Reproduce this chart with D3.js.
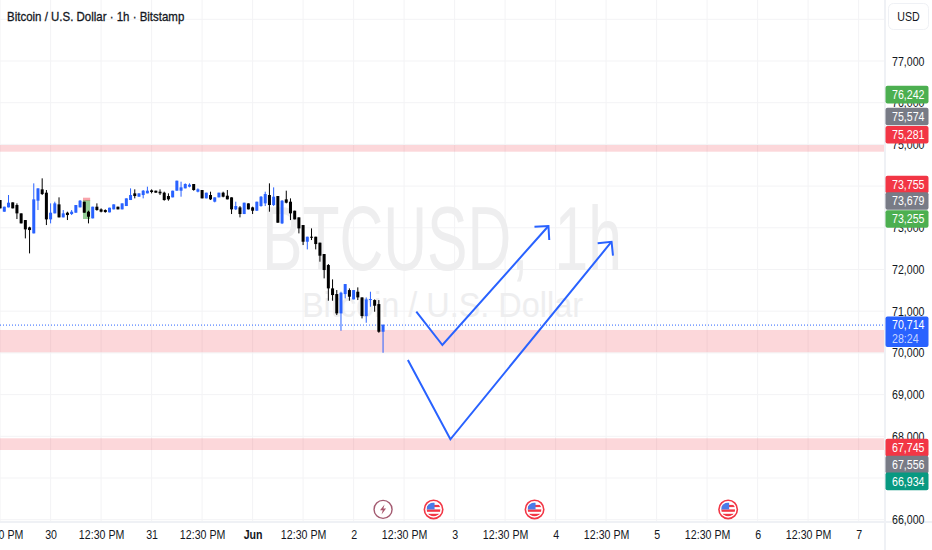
<!DOCTYPE html>
<html>
<head>
<meta charset="utf-8">
<script src="https://cdn.jsdelivr.net/npm/d3@7"></script>
<style>
  html, body { margin: 0; padding: 0; background: #fff; overflow: hidden; }
  svg { display: block; }
  text { font-family: "Liberation Sans", sans-serif; }
</style>
</head>
<body>
<div id="chart"></div>
<script>
// candles, hours counted from May 30 00:00, first one sits on the left edge
const firstHour = -12;
const opens = [73666,73386,73490,73610,73546,73346,73186,73010,72866,73650,73922,73842,73202,73346,73562,73250,73362,73330,73362,73490,73626,73386,73226,73506,73442,73426,73370,73442,73506,73442,73522,73666,73826,73746,73786,73826,
  73898,73890,73866,73842,73762,73730,73890,73890,73946,73986,74050,73866,73906,73706,73786,73626,73730,73842,73770,73730,73442,73490,73330,73586,73490,73410,73522,73586,73786,73546,73762,73106,73682,73626,73410,73250,
  73066,72666,72786,72786,72643,72371,72107,71547,71411,70947,71411,71507,71283,71467,71331,70883,71275,71267,71171,70507];
const highs = [73666,73506,73786,73610,73586,73346,73186,73026,74066,73946,74186,73906,73586,73626,73730,73426,73386,73426,73546,73666,73626,73410,73506,73586,73466,73442,73482,73562,73506,73586,73706,73946,73922,73826,73906,73986,
  73922,73890,73922,73866,73826,73890,74130,74106,74066,74066,74050,73946,73906,73842,73866,73730,73842,73866,73906,73730,73626,73522,73602,73586,73506,73626,73762,73866,74066,73970,73762,73666,73890,73706,73410,73250,
  73066,72786,72986,72786,72643,72371,72131,71763,71507,71467,71651,71547,71507,71571,71331,71331,71467,71283,71267,70691];
const lows = [73466,73386,73490,73466,73210,73106,72746,72386,72866,73426,73786,73066,73106,73346,73250,73250,73186,73306,73362,73490,73362,73106,73226,73410,73370,73362,73370,73442,73442,73442,73522,73666,73706,73746,73706,73826,
  73826,73842,73786,73650,73650,73730,73890,73746,73946,73970,73890,73850,73706,73706,73666,73610,73730,73730,73682,73330,73426,73250,73330,73442,73330,73410,73506,73522,73386,73522,73122,73090,73586,73186,73202,72866,
  72586,72482,72706,72482,72187,71787,71251,71251,70907,70531,71307,71251,71283,71267,70827,70723,71107,70987,70483,70003];
const closes = [73466,73506,73602,73466,73346,73106,72962,72946,73682,73946,73810,73202,73362,73586,73250,73346,73306,73386,73546,73650,73362,73266,73506,73426,73386,73378,73482,73562,73442,73586,73706,73786,73762,73826,73890,73890,
  73858,73842,73826,73666,73682,73890,74130,73970,74050,74034,73906,73922,73706,73842,73682,73730,73842,73746,73682,73442,73522,73330,73602,73442,73410,73626,73746,73810,73546,73746,73122,73650,73602,73346,73202,72986,
  72666,72786,72770,72610,72331,71987,71547,71387,70947,71443,71651,71347,71507,71331,70883,71283,71291,71131,70507,70667];

const priceTicks = [77000,76000,75000,74000,73000,72000,71000,70000,69000,68000,67000,66000];
const timeTickHours = [-12,0,12,24,36,48,60,72,84,96,108,120,132,144,156,168,180,192];
const timeTickLabels = ['12:30 PM','30','12:30 PM','31','12:30 PM','Jun','12:30 PM','2','12:30 PM','3','12:30 PM','4','12:30 PM','5','12:30 PM','6','12:30 PM','7'];

// drawn price zones [top, bottom]
const zoneTops = [74986,70550,67952];
const zoneBottoms = [74825,70015,67672];

// hand drawn arrows
const arrowOneHours = [86.9,93.1,118.3];
const arrowOnePrices = [70987,70189,73043];
const arrowTwoHours = [84.9,95.0,133.3];
const arrowTwoPrices = [69830,67928,72666];

// price scale badges
const badgeValues = [76242,75574,75281,73755,73679,73255,67745,67556,66934];
const badgeKinds = ['green','gray','red','red','gray','green','red','gray','teal'];
const lastPrice = 70714;
const countdown = '28:24';

const eventHours = [79,91,115,161];
const eventKinds = ['bolt','flag','flag','flag'];

const width = 932, height = 550;
const paneRight = 885, paneBottom = 522;
const colors = { blue: '#2962ff', black: '#000000', text: '#131722', grid: '#f3f3f5', border: '#eff1f5',
  green: '#4caf50', gray: '#787b86', red: '#f23645', teal: '#089981', mark: '#eeeeef' };

const x = d3.scaleLinear().domain([0, 72]).range([50.6, 353.6]);
const y = d3.scaleLinear().domain([77000, 66000]).range([61, 519.7]);

const svg = d3.select('#chart').append('svg').attr('width', width).attr('height', height);
svg.append('defs').append('clipPath').attr('id', 'pane')
  .append('rect').attr('width', paneRight).attr('height', paneBottom);

const pane = svg.append('g').attr('clip-path', 'url(#pane)');

// grid
pane.append('g').selectAll('line').data(priceTicks.concat([78000])).enter().append('line')
  .attr('x1', 0).attr('x2', paneRight)
  .attr('y1', d => y(d)).attr('y2', d => y(d))
  .attr('stroke', colors.grid);
pane.append('g').selectAll('line').data(timeTickHours).enter().append('line')
  .attr('x1', d => x(d)).attr('x2', d => x(d))
  .attr('y1', 0).attr('y2', paneBottom)
  .attr('stroke', colors.grid);

// watermark
pane.append('text').attr('x', 442).attr('y', 270).attr('text-anchor', 'middle')
  .attr('font-size', 90).attr('fill', colors.mark).attr('word-spacing', 14)
  .attr('textLength', 360).attr('lengthAdjust', 'spacingAndGlyphs')
  .text('BTCUSD, 1h');
pane.append('text').attr('x', 442.5).attr('y', 317).attr('text-anchor', 'middle')
  .attr('font-size', 35).attr('fill', colors.mark)
  .attr('textLength', 281).attr('lengthAdjust', 'spacingAndGlyphs')
  .text('Bitcoin / U.S. Dollar');

// zones
pane.append('g').selectAll('rect').data(zoneTops).enter().append('rect')
  .attr('x', 0).attr('width', paneRight)
  .attr('y', d => y(d))
  .attr('height', (d, i) => y(zoneBottoms[i]) - y(d))
  .attr('fill', colors.red).attr('fill-opacity', 0.2);

// position tool behind the candle at hour 8
const tool = pane.append('g');
tool.append('rect').attr('x', x(7.7)).attr('width', x(9.4) - x(7.7))
  .attr('y', y(73667)).attr('height', y(73211) - y(73667))
  .attr('fill', colors.green).attr('fill-opacity', 0.6);
tool.append('rect').attr('x', x(7.7)).attr('width', x(9.4) - x(7.7))
  .attr('y', y(73722)).attr('height', y(73650) - y(73722))
  .attr('fill', colors.red).attr('fill-opacity', 0.45);

// last price line
pane.append('line')
  .attr('x1', 0).attr('x2', paneRight)
  .attr('y1', y(closes[closes.length - 1])).attr('y2', y(closes[closes.length - 1]))
  .attr('stroke', colors.blue).attr('stroke-dasharray', '1 2');

// candles
const candle = pane.append('g').selectAll('g').data(opens).enter().append('g')
  .attr('fill', (d, i) => closes[i] >= d ? colors.blue : colors.black)
  .attr('stroke', (d, i) => closes[i] >= d ? colors.blue : colors.black);
candle.append('line')
  .attr('x1', (d, i) => x(firstHour + i)).attr('x2', (d, i) => x(firstHour + i))
  .attr('y1', (d, i) => y(highs[i])).attr('y2', (d, i) => y(lows[i]));
candle.append('rect')
  .attr('x', (d, i) => x(firstHour + i) - 1.5).attr('width', 3)
  .attr('y', (d, i) => y(Math.max(d, closes[i])))
  .attr('height', (d, i) => Math.max(1, Math.abs(y(d) - y(closes[i]))))
  .attr('stroke', 'none');

// arrows
function drawArrow(hours, prices) {
  const pts = hours.map((h, i) => [x(h), y(prices[i])]);
  const line = d3.line();
  pane.append('path').attr('d', line(pts))
    .attr('fill', 'none').attr('stroke', colors.blue).attr('stroke-width', 2);
  const tip = pts[pts.length - 1], prev = pts[pts.length - 2];
  const angle = Math.atan2(prev[1] - tip[1], prev[0] - tip[0]);
  const head = [angle + Math.PI / 4, angle - Math.PI / 4].map(a => [tip[0] + 14 * Math.cos(a), tip[1] + 14 * Math.sin(a)]);
  pane.append('path').attr('d', line([head[0], tip, head[1]]))
    .attr('fill', 'none').attr('stroke', colors.blue).attr('stroke-width', 2);
}
drawArrow(arrowOneHours, arrowOnePrices);
drawArrow(arrowTwoHours, arrowTwoPrices);

// event markers
const eventY = 509.4;
eventKinds.forEach((kind, i) => {
  const g = pane.append('g').attr('transform', `translate(${x(eventHours[i])},${eventY})`);
  if (kind === 'bolt') {
    g.append('circle').attr('r', 9).attr('fill', '#fff').attr('stroke', '#a35a70').attr('stroke-width', 1.4);
    g.append('path').attr('d', 'M1.5,-5 L-3,0.8 L-0.3,0.8 L-1.5,5 L3,-0.8 L0.3,-0.8 Z').attr('fill', '#a8566c');
  } else {
    g.append('circle').attr('r', 9.2).attr('fill', '#fff').attr('stroke', colors.red).attr('stroke-width', 1.6);
    g.append('clipPath').attr('id', 'flag' + i).append('circle').attr('r', 7);
    const flag = g.append('g').attr('clip-path', `url(#flag${i})`);
    flag.append('rect').attr('x', -7).attr('y', -7).attr('width', 14).attr('height', 14).attr('fill', '#fff');
    flag.append('rect').attr('x', -7).attr('y', -4.5).attr('width', 14).attr('height', 2.2).attr('fill', colors.red);
    flag.append('rect').attr('x', -7).attr('y', 0).attr('width', 14).attr('height', 2.4).attr('fill', colors.red);
    flag.append('rect').attr('x', -7).attr('y', 4.4).attr('width', 14).attr('height', 2.6).attr('fill', colors.red);
    flag.append('rect').attr('x', -7).attr('y', -7).attr('width', 8).attr('height', 7).attr('fill', '#4a7be8');
  }
});

// axis borders
svg.append('rect').attr('x', paneRight - 1).attr('y', 0).attr('width', 2).attr('height', height).attr('fill', colors.border);
svg.append('rect').attr('x', 0).attr('y', paneBottom - 1).attr('width', width).attr('height', 2).attr('fill', colors.border);

// price axis
const priceAxis = svg.append('g').attr('transform', `translate(${paneRight},0)`)
  .call(d3.axisRight(y).tickValues(priceTicks).tickFormat(d3.format(',')).tickSize(0).tickPadding(7));
priceAxis.select('.domain').remove();
priceAxis.selectAll('text').attr('font-size', 12.5).attr('font-family', null).attr('fill', colors.text);

// time axis
const timeAxis = svg.append('g').attr('transform', `translate(0,${paneBottom})`)
  .call(d3.axisBottom(x).tickValues(timeTickHours)
    .tickFormat((d, i) => timeTickLabels[i]).tickSize(0).tickPadding(8));
timeAxis.select('.domain').remove();
timeAxis.selectAll('text').attr('font-size', 12.5).attr('font-family', null).attr('fill', colors.text)
  .attr('font-weight', (d, i) => timeTickLabels[i] === 'Jun' ? 'bold' : null);

// badges, nudged apart where they would overlap
const badgeNudge = [2, -4, 2, -11.8, 1.5, 1.8, 0.7, 9.8, 0.6];
const badges = svg.append('g').selectAll('g').data(badgeValues).enter().append('g')
  .attr('transform', (d, i) => `translate(885.5,${y(d) + badgeNudge[i]})`);
badges.append('rect').attr('y', -8.8).attr('width', 43).attr('height', 17.6).attr('rx', 2)
  .attr('fill', (d, i) => colors[badgeKinds[i]]);
badges.append('text').attr('class', 'narrow').attr('x', 6.5).attr('dy', '0.34em').attr('font-size', 12.5).attr('fill', '#fff')
  .text(d => d3.format(',')(d));

const lastBadge = svg.append('g').attr('transform', `translate(885.5,${y(closes[closes.length - 1])})`);
lastBadge.append('rect').attr('y', -8.6).attr('width', 43).attr('height', 30.4).attr('rx', 2).attr('fill', colors.blue);
lastBadge.append('text').attr('class', 'narrow').attr('x', 6.5).attr('dy', '0.34em').attr('font-size', 12.5).attr('fill', '#fff')
  .text(d3.format(',')(lastPrice));
lastBadge.append('text').attr('class', 'narrow').attr('x', 6.5).attr('y', 13.5).attr('dy', '0.34em').attr('font-size', 12.5)
  .attr('fill', '#c6d5ff').text(countdown);

// currency button
svg.append('rect').attr('x', 888.5).attr('y', 3.5).attr('width', 40).attr('height', 26).attr('rx', 5)
  .attr('fill', '#fff').attr('stroke', colors.border);
svg.append('text').attr('class', 'narrow').attr('x', 908.5).attr('y', 16.5).attr('dy', '0.35em').attr('text-anchor', 'middle')
  .attr('font-size', 12.5).attr('fill', colors.text).text('USD');

// title
svg.append('text').attr('class', 'narrow').attr('x', 7).attr('y', 16.5).attr('dy', '0.35em')
  .attr('font-size', 13.5).attr('fill', colors.text)
  .attr('stroke', colors.text).attr('stroke-width', 0.3)
  .text('Bitcoin / U.S. Dollar · 1h · Bitstamp');

// the original uses a condensed face, squeeze the axis text to the same width
priceAxis.selectAll('text').classed('narrow', true);
timeAxis.selectAll('text').classed('narrow', true);
svg.selectAll('text.narrow').each(function() {
  d3.select(this).attr('textLength', this.getComputedTextLength() * 0.85)
    .attr('lengthAdjust', 'spacingAndGlyphs');
});
</script>
</body>
</html>
